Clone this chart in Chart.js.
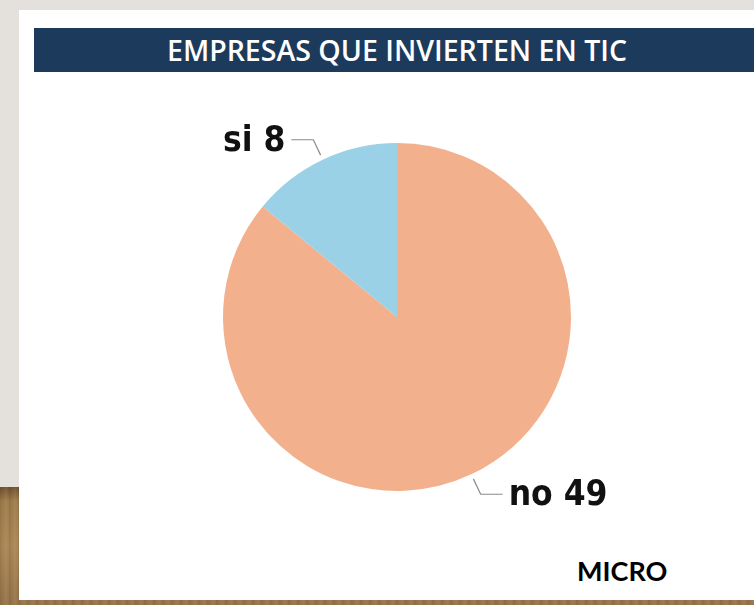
<!DOCTYPE html>
<html>
<head>
<meta charset="utf-8">
<script src="https://cdn.jsdelivr.net/npm/chart.js@4/dist/chart.umd.min.js"></script>
<style>
    html, body { margin: 0; padding: 0; }
    body {
        width: 754px; height: 605px; position: relative; overflow: hidden;
        background: #e4e1dc;
    }
    .wood {
        position: absolute; left: 0; top: 487px; width: 754px; height: 118px;
        background:
            repeating-linear-gradient(90deg, rgba(60,35,10,0.10) 0px, rgba(60,35,10,0) 3px, rgba(255,230,180,0.08) 6px, rgba(60,35,10,0) 9px),
            linear-gradient(180deg, #6e5030 0%, #9c7a4b 12%, #a88656 50%, #94724a 100%);
    }
    .panel {
        position: absolute; left: 19px; top: 10px; width: 735px; height: 590px;
        background: #ffffff;
    }
    .titlebar {
        position: absolute; left: 34px; top: 28px; width: 720px; height: 44px;
        background: #1b3a5c;
    }
    .titlebar span {
        position: absolute; left: 363px; top: 50%;
        transform-origin: center center;
        white-space: nowrap;
        color: #ffffff; font: 600 28px "Open Sans", sans-serif;
    }
    .micro {
        position: absolute; left: 577px; top: 554px;
        font: bold 27px Lato, sans-serif; color: #000;
    }
    canvas { position: absolute; left: 0; top: 0; }
</style>
</head>
<body>
<div class="wood"></div>
<div class="panel"></div>
<div class="titlebar"><span id="title">EMPRESAS QUE INVIERTEN EN TIC</span></div>
<div class="micro">MICRO</div>
<div style="position:absolute;left:0;top:0;width:754px;height:605px;">
    <canvas id="pieChart"></canvas>
</div>
<script>
    const labels = ['no', 'si'];
    const values = [49, 8];
    const colors = ['#f3b08c', '#9ad1e6'];

    // squeeze the title so it spans the same width as the original
    const title = document.getElementById('title');
    const sx = 460 / title.getBoundingClientRect().width;
    title.style.transform = 'translate(-50%, -50%) scaleX(' + sx + ')';

    // leader lines + "label value" text next to each slice
    const sliceLabels = {
        id: 'sliceLabels',
        afterDatasetsDraw(chart) {
            const ctx = chart.ctx;
            const meta = chart.getDatasetMeta(0);
            ctx.save();
            ctx.font = 'bold 35px "DejaVu Sans Condensed", "DejaVu Sans", sans-serif';
            ctx.textBaseline = 'middle';
            meta.data.forEach((arc, i) => {
                const mid = (arc.startAngle + arc.endAngle) / 2;
                const r = arc.outerRadius;
                const cos = Math.cos(mid), sin = Math.sin(mid);
                const x1 = arc.x + cos * (r + 5), y1 = arc.y + sin * (r + 5);
                const x2 = arc.x + cos * (r + 22), y2 = arc.y + sin * (r + 22);
                const dir = cos >= 0 ? 1 : -1;
                const x3 = x2 + dir * 22;
                ctx.strokeStyle = '#8a8a8a';
                ctx.lineWidth = 1.2;
                ctx.beginPath();
                ctx.moveTo(x1, y1);
                ctx.lineTo(x2, y2);
                ctx.lineTo(x3, y2);
                ctx.stroke();
                ctx.fillStyle = '#111111';
                ctx.textAlign = dir > 0 ? 'left' : 'right';
                ctx.fillText(labels[i] + ' ' + values[i], x3 + dir * 6, y2 + 2);
            });
            ctx.restore();
        }
    };

    new Chart(document.getElementById('pieChart'), {
        type: 'pie',
        data: {
            labels: labels,
            datasets: [{
                data: values,
                backgroundColor: colors,
                borderWidth: 0
            }]
        },
        options: {
            responsive: true,
            maintainAspectRatio: false,
            animation: false,
            layout: { padding: { left: 223, right: 183, top: 143, bottom: 114 } },
            plugins: {
                legend: { display: false },
                tooltip: { enabled: false }
            }
        },
        plugins: [sliceLabels]
    });
</script>
</body>
</html>
